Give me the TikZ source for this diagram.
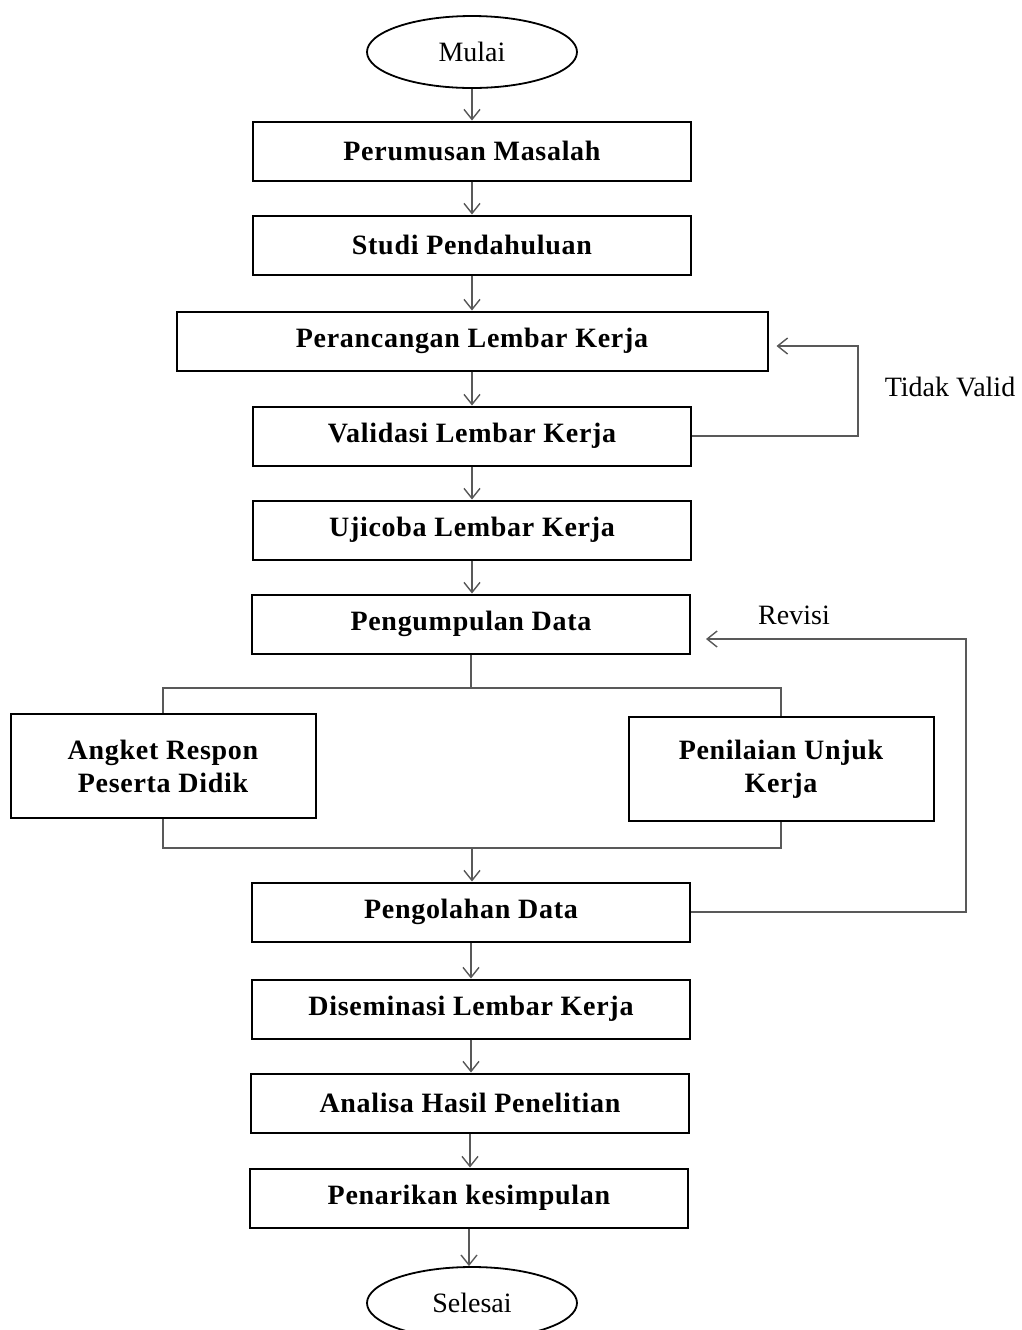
\documentclass[tikz,border=0pt]{standalone}
\usepackage{fontspec}
\setmainfont{Liberation Serif}
\newfontfamily\boxfont[LetterSpace=2.5]{Liberation Serif}
\usetikzlibrary{shapes.geometric,arrows.meta}
\tikzset{
  stepbox/.style={draw, line width=1pt, minimum width=219pt, minimum height=29.5pt,
    inner sep=2pt, align=center, font=\boxfont\fontsize{14}{16.5}\selectfont\bfseries},
  sidebox/.style={stepbox, minimum width=152.5pt, minimum height=52pt},
  terminal/.style={draw, ellipse, line width=0.9pt, minimum width=105pt,
    minimum height=36pt, inner sep=0pt, font=\fontsize{14}{16}\selectfont},
  link/.style={draw=black!65, line width=0.7pt},
  arr/.style={link, -{Straight Barb[length=5pt,width=8pt]}},
  note/.style={font=\fontsize{14}{16}\selectfont}
}
\begin{document}
\begin{tikzpicture}[x=0.5pt,y=-0.5pt]
  \useasboundingbox (0,0) rectangle (1022,1330);
  % main column
  \node[terminal] (mulai) at (472,52) {Mulai};
  \node[stepbox] (rumus) at (472,151) {Perumusan Masalah};
  \node[stepbox] (studi) at (472,245) {Studi Pendahuluan};
  \node[stepbox, minimum width=295.5pt] (rancang) at (472,341) {Perancangan Lembar Kerja};
  \node[stepbox] (valid) at (472,436) {Validasi Lembar Kerja};
  \node[stepbox] (uji) at (472,530) {Ujicoba Lembar Kerja};
  \node[stepbox] (kumpul) at (471,624) {Pengumpulan Data};
  \node[sidebox] (angket) at (163,766) {Angket Respon\\Peserta Didik};
  \node[sidebox] (nilai) at (781,769) {Penilaian Unjuk\\Kerja};
  \node[stepbox] (olah) at (471,912) {Pengolahan Data};
  \node[stepbox] (sebar) at (471,1009) {Diseminasi Lembar Kerja};
  \node[stepbox] (analisa) at (470,1103) {Analisa Hasil Penelitian};
  \node[stepbox] (tarik) at (469,1198) {Penarikan kesimpulan};
  \node[terminal] (selesai) at (472,1303) {Selesai};
  %
  \foreach \a/\b in {mulai/rumus, rumus/studi, studi/rancang, rancang/valid,
                     valid/uji, uji/kumpul, olah/sebar, sebar/analisa,
                     analisa/tarik, tarik/selesai} {
    \draw[arr] (\a.south) -- (\a.south |- \b.north);
  }
  % split and join
  \coordinate (split) at (471,688);
  \coordinate (join) at (472,848);
  \draw[link] (kumpul.south) -- (split);
  \draw[link] (angket.north) |- (split) -| (nilai.north);
  \draw[link] (angket.south) |- (join) -| (nilai.south);
  \draw[arr] (join) -- (join |- olah.north);
  % feedback loops
  \coordinate (tv) at (858,346);
  \draw[arr] (valid.east) -| (tv) -- ([xshift=4pt,yshift=-2.5pt]rancang.east);
  \node[note] (tidak) at (950,387) {Tidak Valid};
  \coordinate (rv) at (966,639);
  \draw[arr] (olah.east) -| (rv) -- ([xshift=7.5pt,yshift=-7.5pt]kumpul.east);
  \node[note] (revisi) at (794,615) {Revisi};
\end{tikzpicture}
\end{document}
